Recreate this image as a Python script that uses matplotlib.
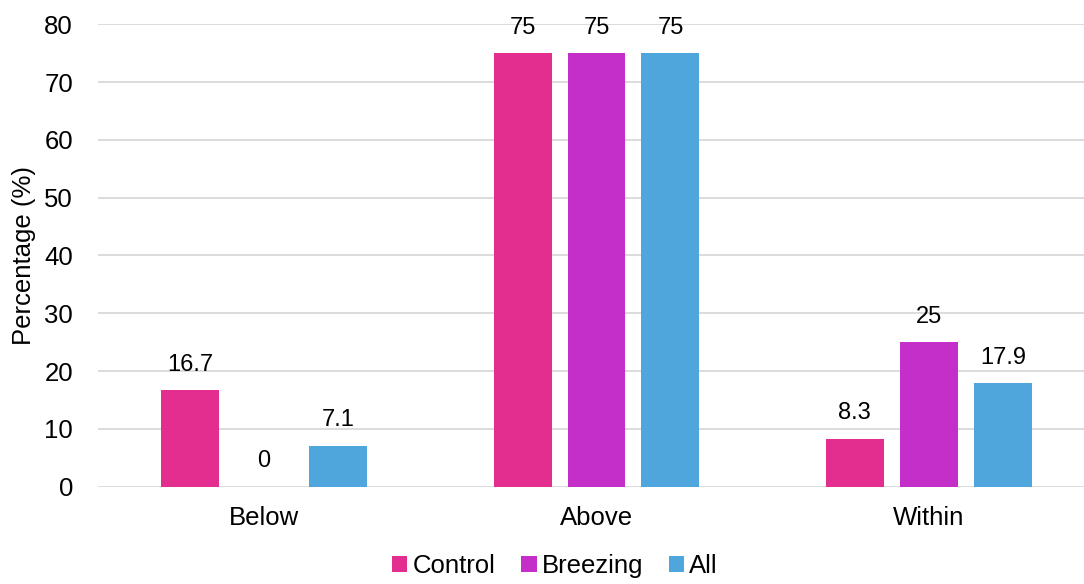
import numpy as np
import matplotlib
matplotlib.use("Agg")
import matplotlib.pyplot as plt

categories = ["Below", "Above", "Within"]
series = ["Control", "Breezing", "All"]
control = [16.7, 75, 8.3]
breezing = [0, 75, 25]
all_vals = [7.1, 75, 17.9]
colors = ["#E32D8F", "#C42FC9", "#4EA6DC"]

plt.rcParams["font.family"] = ["Liberation Sans", "DejaVu Sans"]
plt.rcParams["font.size"] = 18.5

fig = plt.figure(figsize=(10.84, 5.84), dpi=100)
ax = fig.add_axes([98 / 1084, 97.3 / 584, 997 / 1084, 462.4 / 584])

x = np.arange(len(categories))
width = 0.1745
step = 0.2226
for i, (vals, name) in enumerate(zip([control, breezing, all_vals], series)):
    pos = x + (i - 1) * step
    ax.bar(pos, vals, width, color=colors[i], label=name, zorder=3)
    for p, v in zip(pos, vals):
        ax.annotate("%g" % v, (p, v), xytext=(0, 18.2), textcoords="offset points",
                    ha="center", va="center", fontsize=17, color="black")

ax.set_xlim(-0.5, 2.5)
ax.set_ylim(0, 80)
ax.set_yticks(range(0, 81, 10))
ax.set_xticks(x)
ax.set_xticklabels(categories)
ax.tick_params(length=0, labelsize=18.5, colors="black")
ax.tick_params(axis="y", pad=18)
ax.tick_params(axis="x", pad=14)
ax.grid(axis="y", color="#D9D9D9", linewidth=1.3, zorder=0)
for s in ax.spines.values():
    s.set_visible(False)
ax.set_ylabel("Percentage (%)", fontsize=18.5, color="black", labelpad=6)

fig.legend(loc="lower center", bbox_to_anchor=(555 / 1084, -0.03), ncol=3, frameon=False,
           fontsize=18.5, handlelength=0.6, handleheight=0.6, handletextpad=0.2,
           columnspacing=1.0)

fig.savefig("out.png", dpi=100)
